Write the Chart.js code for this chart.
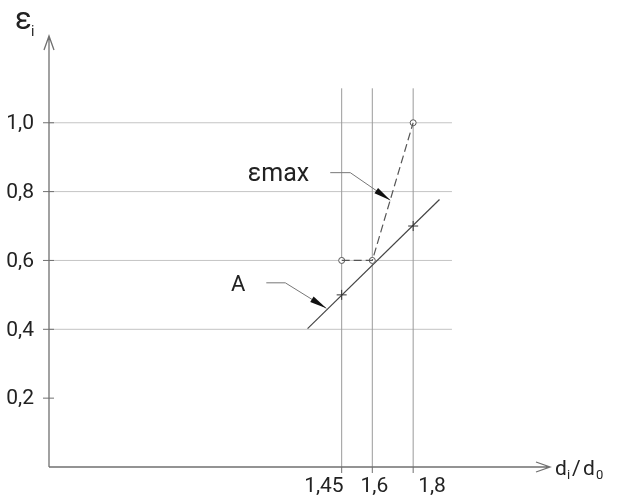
<!DOCTYPE html>
<html>
<head>
<meta charset="utf-8">
<script src="https://cdn.jsdelivr.net/npm/chart.js@4.4.1/dist/chart.umd.min.js"></script>
<style>
html, body { margin: 0; padding: 0; background: #fff; }
#wrap { width: 626px; height: 495px; }
</style>
</head>
<body>
<div id="wrap"><canvas id="grafica"></canvas></div>
<script>
//------------------------------------------- DATOS -------------------------------------------
const yTicks = [0.2, 0.4, 0.6, 0.8, 1.0]
const yTickLabels = ['0,2', '0,4', '0,6', '0,8', '1,0']
const yGrid = [0.4, 0.6, 0.8, 1.0]
const xTicks = [1.45, 1.6, 1.8]
const xTickLabels = ['1,45', '1,6', '1,8']
const xTickAlign = ['right', 'center', 'left']

const lineaA_x = [1.283, 1.929]
const lineaA_y = [0.402, 0.777]
const cruces_x = [1.45, 1.8]
const cruces_y = [0.5, 0.7]
const emax_x = [1.45, 1.6, 1.8]
const emax_y = [0.6, 0.6, 1.0]

const gridFinX = 1.99
const vGridTop = 1.1

// líneas de referencia de las etiquetas
const guiaEmax_x = [1.394, 1.492, 1.688]
const guiaEmax_y = [0.855, 0.855, 0.775]
const guiaA_x = [1.081, 1.174, 1.375]
const guiaA_y = [0.535, 0.535, 0.461]

const xMin = 0.017, xMax = 2.47, yMin = 0, yMax = 1.252
const fuente = 'Roboto'

function puntos(xs, ys) {
    return xs.map(function (x, i) { return { x: x, y: ys[i] } })
}

function linea(data, color, ancho, dash) {
    return {
        data: data, showLine: true, borderColor: color, borderWidth: ancho,
        borderDash: dash || [], pointRadius: 0, fill: false, tension: 0
    }
}

let datasets = []
// curva emax (trazos)
datasets.push(linea(puntos(emax_x, emax_y), '#555', 1.2, [8, 4]))
datasets.push({
    data: puntos(emax_x, emax_y), showLine: false, pointStyle: 'circle', pointRadius: 3,
    pointBackgroundColor: '#fff', pointBorderColor: '#555', pointBorderWidth: 1
})
// recta A
datasets.push({
    data: puntos(cruces_x, cruces_y), showLine: false, pointStyle: 'cross', pointRadius: 5,
    pointBorderColor: '#333', pointBorderWidth: 1
})
datasets.push(linea(puntos(lineaA_x, lineaA_y), '#444', 1.2))
// guías
datasets.push(linea(puntos(guiaEmax_x, guiaEmax_y), '#777', 1))
datasets.push(linea(puntos(guiaA_x, guiaA_y), '#777', 1))
// rejilla
xTicks.forEach(function (v) {
    datasets.push(linea([{ x: v, y: yMin }, { x: v, y: vGridTop }], '#9a9a9a', 1))
})
yGrid.forEach(function (v) {
    datasets.push(linea([{ x: xMin, y: v }, { x: gridFinX, y: v }], '#c4c4c4', 1))
})

function flecha(ctx, x1, y1, x2, y2) {
    const ang = Math.atan2(y2 - y1, x2 - x1)
    ctx.save()
    ctx.translate(x2, y2)
    ctx.rotate(ang)
    ctx.beginPath()
    ctx.moveTo(0, 0)
    ctx.lineTo(-17, -3.2)
    ctx.lineTo(-17, 3.2)
    ctx.closePath()
    ctx.fillStyle = '#111'
    ctx.fill()
    ctx.restore()
}

const dibujoPlugin = {
    id: 'dibujo',
    afterDatasetsDraw(chart) {
        const ctx = chart.ctx
        const sx = chart.scales.x, sy = chart.scales.y
        const x0 = sx.getPixelForValue(xMin), y0 = sy.getPixelForValue(yMin)
        const yTop = sy.getPixelForValue(yMax), xEnd = sx.getPixelForValue(xMax)

        ctx.save()
        ctx.strokeStyle = '#707070'
        ctx.lineWidth = 1.3
        // ejes
        ctx.beginPath()
        ctx.moveTo(x0, y0); ctx.lineTo(x0, yTop)
        ctx.moveTo(x0, y0); ctx.lineTo(xEnd, y0)
        // puntas abiertas
        ctx.moveTo(x0 - 5, yTop + 14); ctx.lineTo(x0, yTop); ctx.lineTo(x0 + 5, yTop + 14)
        ctx.moveTo(xEnd - 14, y0 - 5); ctx.lineTo(xEnd, y0); ctx.lineTo(xEnd - 14, y0 + 5)
        ctx.stroke()

        // marcas
        ctx.lineWidth = 1
        ctx.beginPath()
        yTicks.forEach(function (v) {
            const py = sy.getPixelForValue(v)
            ctx.moveTo(x0 - 6, py); ctx.lineTo(x0 + 5, py)
        })
        xTicks.forEach(function (v) {
            const px = sx.getPixelForValue(v)
            ctx.moveTo(px, y0); ctx.lineTo(px, y0 + 6)
        })
        ctx.stroke()

        // etiquetas de marcas
        ctx.fillStyle = '#222'
        ctx.font = '21px ' + fuente
        ctx.textAlign = 'right'
        ctx.textBaseline = 'middle'
        yTicks.forEach(function (v, i) {
            ctx.fillText(yTickLabels[i], x0 - 15, sy.getPixelForValue(v) + 1)
        })
        ctx.textBaseline = 'alphabetic'
        xTicks.forEach(function (v, i) {
            const px = sx.getPixelForValue(v)
            const al = xTickAlign[i]
            ctx.textAlign = al
            const dx = al === 'right' ? 2 : (al === 'left' ? 5 : 2)
            ctx.fillText(xTickLabels[i], px + dx, y0 + 25)
        })

        // títulos de ejes
        ctx.textAlign = 'left'
        ctx.font = '31px ' + fuente
        ctx.fillText('ε', 15, 29)
        ctx.font = '14px ' + fuente
        ctx.fillText('i', 31, 36)

        ctx.font = '21px ' + fuente
        ctx.fillText('d', 555, y0 + 8)
        ctx.font = '13px ' + fuente
        ctx.fillText('i', 567, y0 + 12)
        ctx.font = '21px ' + fuente
        ctx.fillText('/', 572, y0 + 8)
        ctx.fillText('d', 583, y0 + 8)
        ctx.font = '13px ' + fuente
        ctx.fillText('0', 596, y0 + 12)

        // etiquetas con flecha
        const n = guiaEmax_x.length
        flecha(ctx, sx.getPixelForValue(guiaEmax_x[n - 2]), sy.getPixelForValue(guiaEmax_y[n - 2]),
            sx.getPixelForValue(guiaEmax_x[n - 1]), sy.getPixelForValue(guiaEmax_y[n - 1]))
        flecha(ctx, sx.getPixelForValue(guiaA_x[n - 2]), sy.getPixelForValue(guiaA_y[n - 2]),
            sx.getPixelForValue(guiaA_x[n - 1]), sy.getPixelForValue(guiaA_y[n - 1]))

        ctx.fillStyle = '#222'
        ctx.textAlign = 'right'
        ctx.textBaseline = 'middle'
        ctx.font = '25px ' + fuente
        ctx.fillText('εmax', sx.getPixelForValue(guiaEmax_x[0]) - 21, sy.getPixelForValue(guiaEmax_y[0]) + 2)
        ctx.font = '22px ' + fuente
        ctx.fillText('A', sx.getPixelForValue(guiaA_x[0]) - 21, sy.getPixelForValue(guiaA_y[0]) + 3)
        ctx.restore()
    }
}

const canvas = document.getElementById('grafica')
const ctx = canvas.getContext('2d')

const config = {
    type: 'scatter',
    data: { datasets: datasets },
    options: {
        responsive: true,
        maintainAspectRatio: false,
        animation: false,
        events: [],
        layout: { padding: { left: 49, right: 76, top: 36, bottom: 28 } },
        plugins: { legend: { display: false }, tooltip: { enabled: false } },
        scales: {
            x: { type: 'linear', display: false, min: xMin, max: xMax },
            y: { type: 'linear', display: false, min: yMin, max: yMax }
        }
    },
    plugins: [dibujoPlugin]
}

const chart = new Chart(ctx, config)
</script>
</body>
</html>
